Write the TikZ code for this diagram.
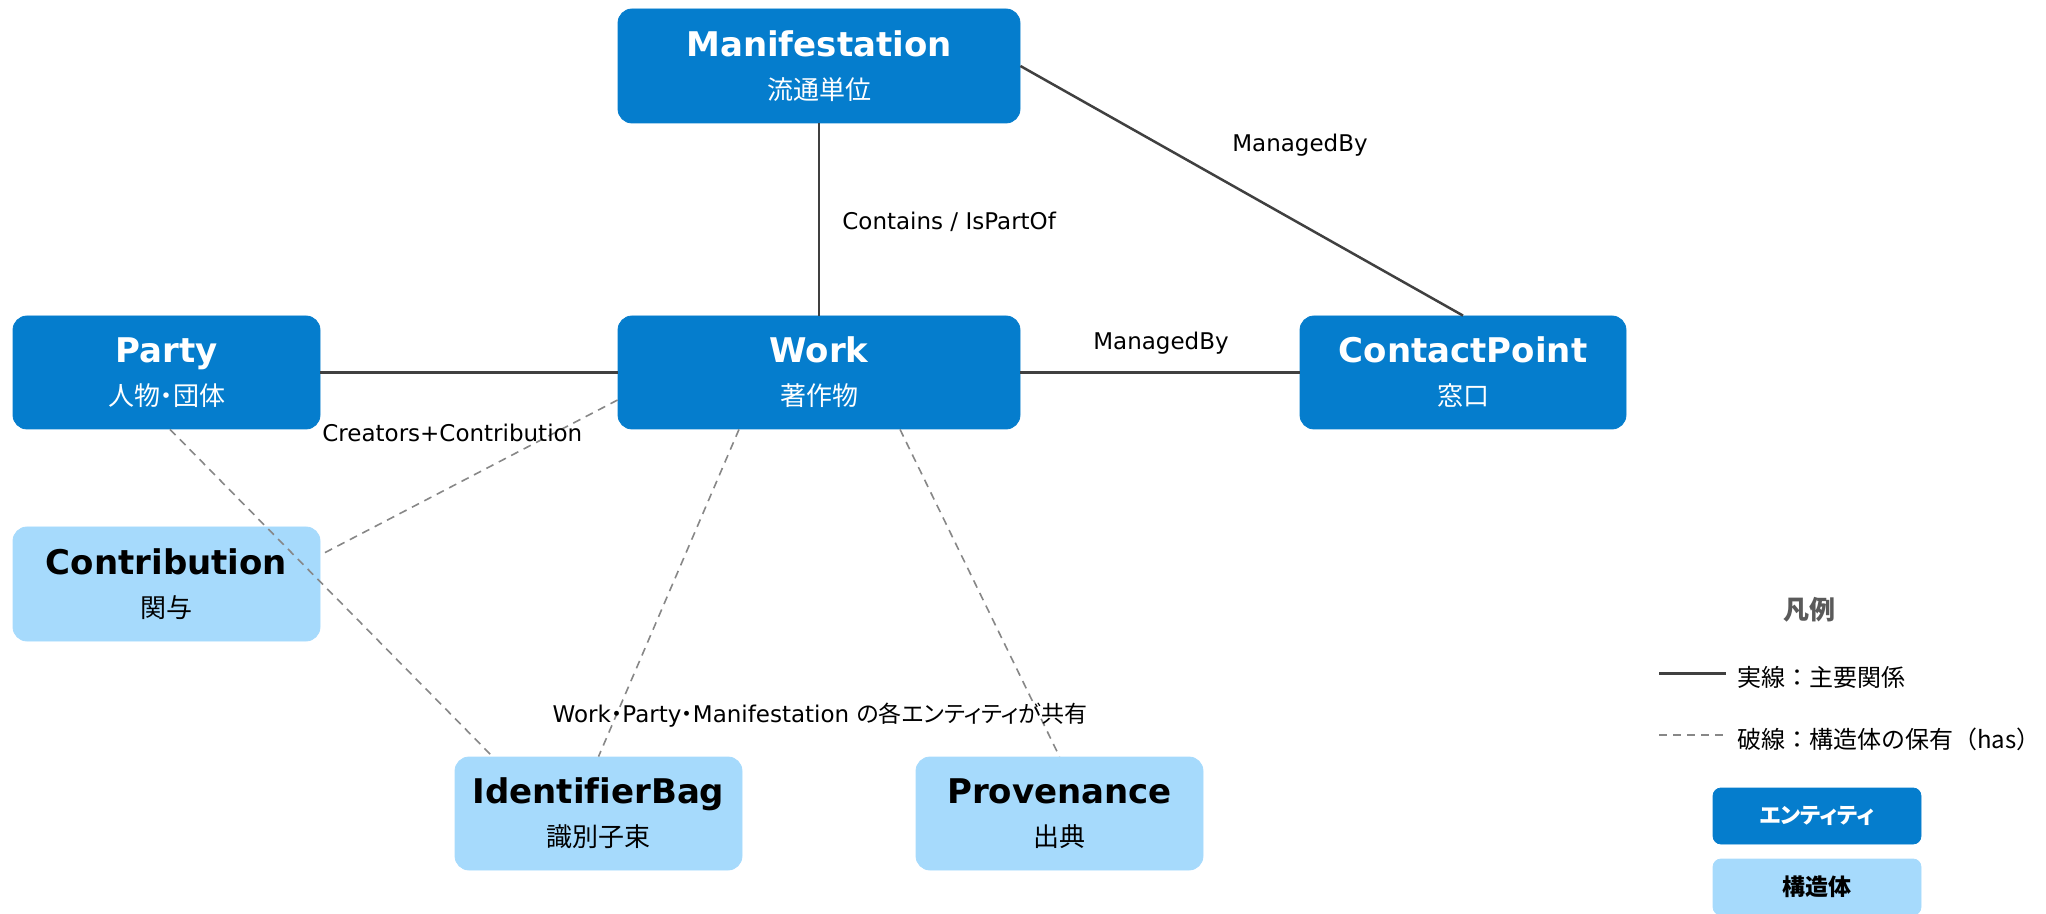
\documentclass[tikz,border=0pt]{standalone}
\usepackage{fontspec}
\usetikzlibrary{calc}
\setmainfont{DejaVu Sans}[Ligatures=CommonOff]
\newfontfamily\jp{Noto Sans CJK JP}
\newfontfamily\jpp{Noto Sans CJK JP}[RawFeature=+palt]
\definecolor{entblue}{RGB}{5,125,205}
\definecolor{strblue}{RGB}{166,218,252}
\definecolor{solidgray}{RGB}{64,64,64}
\definecolor{dashgray}{RGB}{135,135,135}
\definecolor{leggray}{RGB}{90,90,90}
\newcommand{\ttl}{\bfseries\fontsize{17}{20}\selectfont}
\newcommand{\subt}{\jp\fontsize{13}{21.5}\selectfont}
\tikzset{
  box/.style={rectangle, rounded corners=7pt, inner sep=0pt, align=center,
    font=\fontsize{13}{21.5}\selectfont},
  entity/.style={box, fill=entblue, draw=entblue, text=white},
  struct/.style={box, fill=strblue, draw=strblue, text=black},
  rel/.style={draw=solidgray, line width=1.25pt},
  has/.style={draw=dashgray, line width=0.8pt, dash pattern=on 4pt off 3pt},
  elabel/.style={font=\fontsize{11.5}{14}\selectfont, text=black, inner sep=0pt},
  legtext/.style={font=\jp\fontsize{12}{14}\selectfont, text=black, inner sep=0pt, anchor=west},
}
\begin{document}
\begin{tikzpicture}[x=0.5pt,y=-0.5pt]
\useasboundingbox (0,0) rectangle (2046,914);

% entities
\node[entity, minimum width=201pt, minimum height=57pt] (manif) at (819,66)
  {\ttl Manifestation\\\subt 流通単位};
\node[entity, minimum width=153.5pt, minimum height=56.5pt] (party) at (166.5,372.5)
  {\ttl Party\\\subt 人物{\jpp ・}団体};
\node[entity, minimum width=201pt, minimum height=56.5pt] (work) at (819,372.5)
  {\ttl Work\\\subt 著作物};
\node[entity, minimum width=163pt, minimum height=56.5pt] (contact) at (1463,372.5)
  {\ttl ContactPoint\\\subt 窓口};

% structures
\node[struct, minimum width=153.5pt, minimum height=57pt] (contrib) at (166.5,584)
  {\ttl Contribution\\\subt 関与};
\node[struct, minimum width=143.5pt, minimum height=56.5pt] (idbag) at (598.5,813.5)
  {\ttl IdentifierBag\\\subt 識別子束};
\node[struct, minimum width=143.5pt, minimum height=56.5pt] (prov) at (1059.5,813.5)
  {\ttl Provenance\\\subt 出典};

% solid relations
\draw[rel] (manif.south) -- (work.north);
\draw[rel] (manif.east) -- (contact.north);
\draw[rel] (party.east) -- (work.west);
\draw[rel] (work.east) -- (contact.west);

% dashed "has"
\draw[has] ($(work.west)+(0,27.5)$) -- ($(contrib.east)+(0,-29)$);
\draw[has] ($(party.south)+(3.5,0)$) -- ($(idbag.north west)+(38,0)$);
\draw[has] ($(work.south)+(-80,0)$) -- (idbag.north);
\draw[has] ($(work.south)+(81,0)$) -- (prov.north);

% edge labels
\node[elabel, anchor=west] (lcontains) at (842,222) {Contains / IsPartOf};
\node[elabel] (lman1) at (1300,145) {ManagedBy};
\node[elabel] (lman2) at (1161,343) {ManagedBy};
\node[elabel, anchor=west] (lcreators) at (322,433) {Creators+Contribution};
\node[elabel] (lshared) at (820,715) {Work{\jpp ・}Party{\jpp ・}Manifestation {\jpp の各エンティティが共有}};

% legend
\node[font=\jp\bfseries\fontsize{13}{15}\selectfont, text=leggray, inner sep=0pt] (legtitle) at (1809,610) {凡例};
\coordinate (sa) at (1659,673);
\coordinate (sb) at (1726,673);
\coordinate (da) at (1659,735);
\coordinate (db) at (1726,735);
\draw[draw=solidgray, line width=1.5pt] (sa) -- (sb);
\draw[has] (da) -- (db);
\node[legtext] (legsolid) at (1737,677) {実線：主要関係};
\node[legtext] (legdash) at (1737,739) {破線：構造体の保有（has）};
\node[entity, rounded corners=4pt, minimum width=104pt, minimum height=28pt,
  font=\jpp\bfseries\fontsize{11}{13}\selectfont] (legent) at (1817,816) {エンティティ};
\node[struct, rounded corners=4pt, minimum width=104pt, minimum height=28pt,
  font=\jp\bfseries\fontsize{11.5}{13}\selectfont] (legstr) at (1817,887) {構造体};
\end{tikzpicture}
\end{document}
